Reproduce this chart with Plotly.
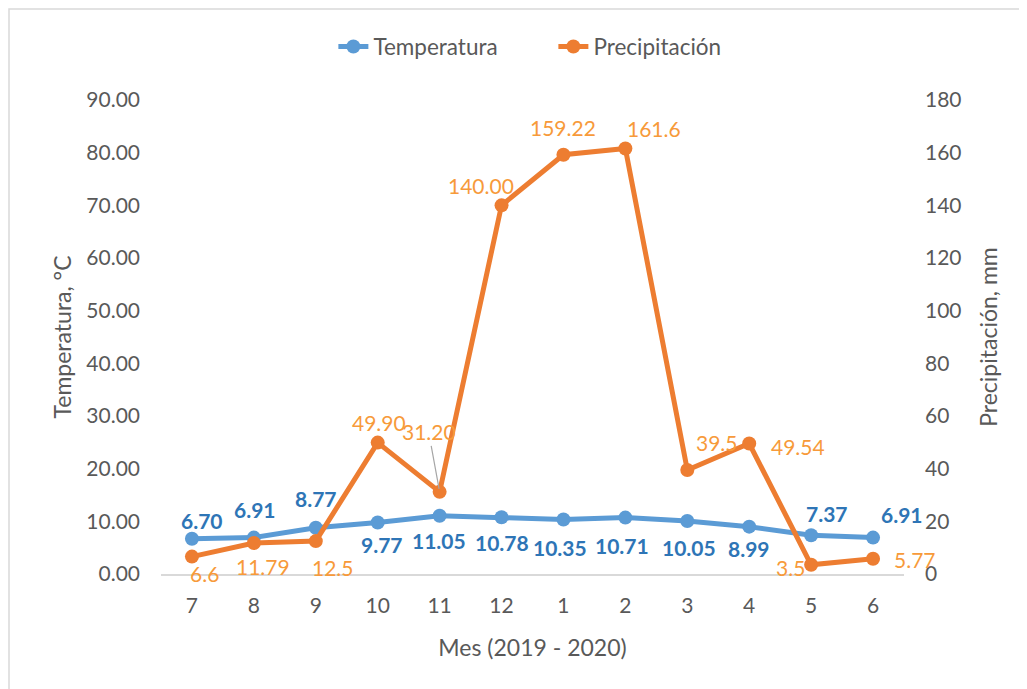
import plotly.graph_objects as go

months = ["7", "8", "9", "10", "11", "12", "1", "2", "3", "4", "5", "6"]
temperatura = [6.70, 6.91, 8.77, 9.77, 11.05, 10.78, 10.35, 10.71, 10.05, 8.99, 7.37, 6.91]
temp_labels = ["6.70", "6.91", "8.77", "9.77", "11.05", "10.78", "10.35", "10.71", "10.05", "8.99", "7.37", "6.91"]
precipitacion = [6.6, 11.79, 12.5, 49.90, 31.20, 140.00, 159.22, 161.6, 39.5, 49.54, 3.5, 5.77]
precip_labels = ["6.6", "11.79", "12.5", "49.90", "31.20", "140.00", "159.22", "161.6", "39.5", "49.54", "3.5", "5.77"]

# label offsets in pixels (dx, dy with dy positive = up)
temp_off = [(10, 18), (1, 28), (0, 29), (4, -22), (-1, -25), (0, -25), (-3, -28), (-3, -28), (2, -26), (0, -22), (16, 22), (29, 23)]
precip_off = [(13, -17), (9, -24), (17, -26), (1, 20), None, (-21, 20), (0, 27), (29, 20), (30, 27), (49, -3), (-21, -3), (42, -1)]

FONT = "Lato, 'Open Sans', sans-serif"
BLUE = "#5B9BD5"
BLUE_TXT = "#2E75B6"
ORANGE = "#ED7D31"
ORANGE_TXT = "#F79A3A"
GREY = "#595959"

fig = go.Figure()
fig.add_trace(go.Scatter(x=months, y=temperatura, name="Temperatura", mode="lines+markers",
                         line=dict(color=BLUE, width=5), marker=dict(size=14, color=BLUE),
                         yaxis="y"))
fig.add_trace(go.Scatter(x=months, y=precipitacion, name="Precipitación", mode="lines+markers",
                         line=dict(color=ORANGE, width=5), marker=dict(size=14, color=ORANGE),
                         yaxis="y2"))

ann = []
for i, (v, t, (dx, dy)) in enumerate(zip(temperatura, temp_labels, temp_off)):
    ann.append(dict(x=i, y=v, xref="x", yref="y", text="<b>" + t + "</b>", showarrow=False,
                    xshift=dx, yshift=dy, font=dict(family=FONT, size=21, color=BLUE_TXT)))
for i, (v, t, off) in enumerate(zip(precipitacion, precip_labels, precip_off)):
    if off is None:
        ann.append(dict(x=i, y=v, xref="x", yref="y2", text=t, showarrow=True, arrowhead=0,
                        arrowwidth=1.2, arrowcolor="#A6A6A6", ax=-11, ay=-60, standoff=3,
                        font=dict(family=FONT, size=21, color=ORANGE_TXT)))
    else:
        dx, dy = off
        ann.append(dict(x=i, y=v, xref="x", yref="y2", text=t, showarrow=False,
                        xshift=dx, yshift=dy, font=dict(family=FONT, size=21, color=ORANGE_TXT)))

fig.update_layout(
    width=1027, height=689,
    margin=dict(l=153, r=131, t=92, b=123, autoexpand=False),
    paper_bgcolor="white", plot_bgcolor="white",
    font=dict(family=FONT, color=GREY),
    showlegend=True,
    legend=dict(orientation="h", x=0.232, xanchor="left", y=1.112, yanchor="middle",
                entrywidth=175, entrywidthmode="pixels",
                font=dict(family=FONT, size=22.5, color=GREY)),
    xaxis=dict(type="category", range=[-0.5, 11.5], autorange=False, showgrid=False,
               showline=True, linecolor="#D9D9D9", linewidth=1.5, ticklabelstandoff=12,
               ticks="", tickfont=dict(size=21, color=GREY), automargin=False,
               title=dict(text="Mes (2019 - 2020)", font=dict(size=23, color=GREY), standoff=24)),
    yaxis=dict(range=[0, 90], autorange=False, dtick=10, tickformat=".2f", showgrid=False, zeroline=False,
               showline=False, ticks="", tickfont=dict(size=21, color=GREY), automargin=False,
               ticklabelstandoff=20,
               title=dict(text="Temperatura, °C", font=dict(size=23, color=GREY), standoff=8)),
    yaxis2=dict(range=[0, 180], autorange=False, dtick=20, overlaying="y", side="right", showgrid=False,
                zeroline=False, showline=False, ticks="", tickfont=dict(size=21, color=GREY),
                automargin=False, ticklabelstandoff=20,
                title=dict(text="Precipitación, mm", font=dict(size=23, color=GREY), standoff=20)),
    annotations=ann,
    shapes=[dict(type="rect", xref="paper", yref="paper", x0=(-152.0) / 743, x1=1.5,
                 y0=-0.5, y1=(574 - 9) / 474, line=dict(color="#D9D9D9", width=1.5),
                 fillcolor="rgba(0,0,0,0)", layer="below")],
)

fig.write_html("out.html")
